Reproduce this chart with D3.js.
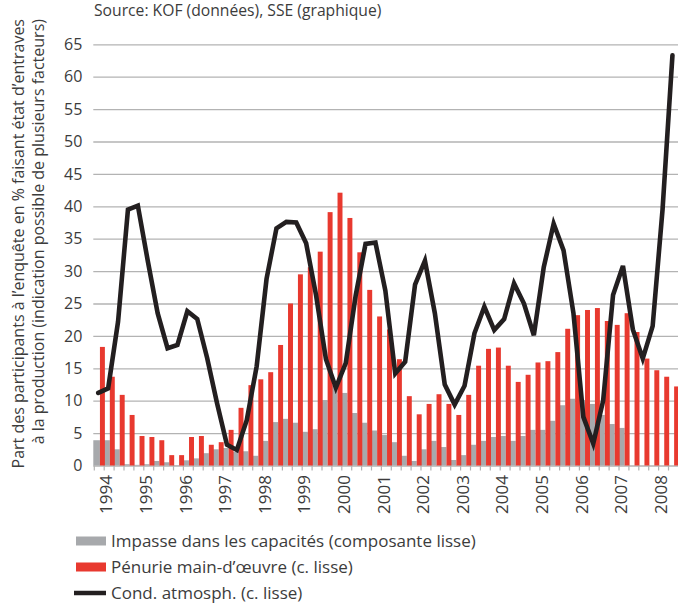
<!DOCTYPE html>
<html>
<head>
<meta charset="utf-8">
<script src="https://cdn.jsdelivr.net/npm/d3@7"></script>
<style>
  body { margin: 0; background: #fff; }
  svg { display: block; font-family: "Open Sans", "Noto Sans", sans-serif; }
</style>
</head>
<body>
<script>
// quarterly data, 1994 T1 .. 2008 T3
const years = ["1994","1995","1996","1997","1998","1999","2000","2001","2002","2003","2004","2005","2006","2007","2008"];
const quarters = years.flatMap(y => ["T1","T2","T3","T4"].map(q => y + " " + q)).slice(0, 59);

// Impasse dans les capacités (composante lisse)
const capacites = [
  3.9, 3.9, 2.5, 0.2,   0.1, 0.2, 0.7, 0.5,   0.05, 0.8, 1.1, 1.9,   2.5, 2.7, 2.1, 2.2,
  1.5, 3.8, 6.7, 7.2,   6.6, 5.2, 5.6, 10.1,  12.4, 11.2, 8.1, 6.6,  5.4, 4.7, 3.6, 1.5,
  0.7, 2.5, 3.8, 2.85,  0.85, 1.6, 3.2, 3.8,  4.4, 4.55, 3.8, 4.55,  5.5, 5.5, 6.9, 9.3,
  10.3, 10.1, 9.5, 7.8, 6.4, 5.8, 0, 0,       0, 0, 0
];
// Pénurie main-d'œuvre (c. lisse)
const penurie = [
  18.3, 13.7, 10.9, 7.8,  4.55, 4.4, 3.9, 1.6,   1.6, 4.4, 4.55, 3.2,   3.6, 5.5, 8.9, 12.4,
  13.3, 14.4, 18.6, 25.0, 29.5, 30.6, 33.0, 39.1, 42.1, 38.2, 32.9, 27.1, 23.0, 21.0, 16.4, 10.7,
  7.9, 9.5, 11.0, 9.5,    7.8, 10.9, 15.4, 18.0,  18.2, 15.4, 12.9, 14.0, 15.9, 16.1, 17.5, 21.1,
  23.2, 24.0, 24.3, 22.3, 21.7, 23.5, 20.6, 16.5, 14.7, 13.7, 12.2
];
// Cond. atmosph. (c. lisse)
const atmos = [
  11.2, 11.9, 22.2, 39.5, 40.1, 31.6, 23.5, 18.1, 18.6, 23.8, 22.6, 16.6, 9.6, 3.2, 2.4, 7.0,
  15.3, 28.8, 36.6, 37.6, 37.5, 34.3, 26.3, 16.4, 12.0, 15.8, 26.2, 34.2, 34.4, 27.0, 14.2, 16.0,
  27.9, 31.6, 23.5, 12.5, 9.4, 12.3, 20.4, 24.5, 20.9, 22.6, 28.1, 25.0, 20.1, 30.6, 37.3, 33.2,
  23.5, 7.5, 3.4, 10.0, 26.3, 30.8, 21.0, 16.5, 21.5, 39.5, 63.3
];
const yTicks = [0,5,10,15,20,25,30,35,40,45,50,55,60,65];

const legendItems = [
  {label: "Impasse dans les capacités (composante lisse)", type: "bar", color: "#a7a9ac"},
  {label: "Pénurie main-d\u2019œuvre (c. lisse)", type: "bar", color: "#e8392f"},
  {label: "Cond. atmosph. (c. lisse)", type: "line", color: "#231f20"}
];

const width = 678, height = 606;
const margin = {top: 44.3, left: 93.3, bottom: 140.5};
const plotRight = 678;

const svg = d3.select("body").append("svg")
  .attr("width", width)
  .attr("height", height);

const x = d3.scaleBand()
  .domain(quarters)
  .range([margin.left, margin.left + 59 * 9.9])
  .padding(0);

const y = d3.scaleLinear()
  .domain([0, 65])
  .range([height - margin.bottom, margin.top]);

const bw = x.bandwidth();

// grid + y labels
const yAxis = svg.append("g")
  .attr("transform", `translate(${margin.left},0)`)
  .call(d3.axisLeft(y).tickValues(yTicks).tickSize(-(plotRight - margin.left)).tickPadding(11));
yAxis.select(".domain").remove();
yAxis.selectAll(".tick line").attr("stroke", "#b3b3b3").attr("stroke-width", 1.3);
yAxis.selectAll(".tick text")
  .attr("fill", "#3c3c3c")
  .style("font-size", "16px")
  .style("font-family", "'Open Sans', sans-serif");

// small ticks under the baseline, one per quarter
svg.append("g")
  .selectAll("line")
  .data(quarters)
  .join("line")
    .attr("x1", d => x(d) + 1)
    .attr("x2", d => x(d) + 1)
    .attr("y1", y(0))
    .attr("y2", y(0) + 5)
    .attr("stroke", "#b3b3b3")
    .attr("stroke-width", 1.2);

// bars
svg.append("g")
  .selectAll("rect")
  .data(capacites)
  .join("rect")
    .attr("x", (d, i) => x(quarters[i]))
    .attr("width", bw * 0.67)
    .attr("y", d => y(d))
    .attr("height", d => y(0) - y(d))
    .attr("fill", legendItems[0].color);

svg.append("g")
  .selectAll("rect")
  .data(penurie)
  .join("rect")
    .attr("x", (d, i) => x(quarters[i]) + bw * 0.67)
    .attr("width", bw * 0.5)
    .attr("y", d => y(d))
    .attr("height", d => y(0) - y(d))
    .attr("fill", legendItems[1].color);

// line
const line = d3.line()
  .x((d, i) => x(quarters[i]) + bw / 2)
  .y(d => y(d));

svg.append("path")
  .datum(atmos)
  .attr("d", line)
  .attr("fill", "none")
  .attr("stroke", legendItems[2].color)
  .attr("stroke-width", 4.6)
  .attr("stroke-linejoin", "miter")
  .attr("stroke-linecap", "round");

// year labels (rotated)
svg.append("g")
  .selectAll("text")
  .data(years)
  .join("text")
    .attr("transform", d => `translate(${x(d + " T1") + 13},475) rotate(-90)`)
    .attr("text-anchor", "end")
    .attr("dy", "0.36em")
    .attr("fill", "#3c3c3c")
    .style("font-size", "17px")
    .text(d => d);

// source
svg.append("text")
  .attr("x", 94)
  .attr("y", 16)
  .attr("fill", "#3c3c3c")
  .style("font-size", "15.7px")
  .text("Source: KOF (données), SSE (graphique)");

// y axis title, two lines
const yTitle = ["Part des participants à l\u2019enquête en % faisant état d\u2019entraves",
                "à la production (indication possible de plusieurs facteurs)"];
svg.append("g")
  .selectAll("text")
  .data(yTitle)
  .join("text")
    .attr("transform", (d, i) => `translate(${18 + i * 20},19) rotate(-90)`)
    .attr("text-anchor", "end")
    .attr("dy", "0.36em")
    .attr("fill", "#3c3c3c")
    .style("font-size", "16px")
    .text(d => d);

// legend
const legend = svg.append("g");
const rows = legend.selectAll("g")
  .data(legendItems)
  .join("g")
    .attr("transform", (d, i) => `translate(76,${541 + i * 26})`);

rows.filter(d => d.type === "bar").append("rect")
  .attr("x", 0).attr("y", -4.5)
  .attr("width", 30).attr("height", 9)
  .attr("fill", d => d.color);

rows.filter(d => d.type === "line").append("line")
  .attr("x1", -2).attr("x2", 30)
  .attr("stroke", d => d.color)
  .attr("stroke-width", 4.5);

rows.append("text")
  .attr("x", 35)
  .attr("dy", "0.36em")
  .attr("fill", "#3c3c3c")
  .style("font-size", "17px")
  .text(d => d.label);
</script>
</body>
</html>
